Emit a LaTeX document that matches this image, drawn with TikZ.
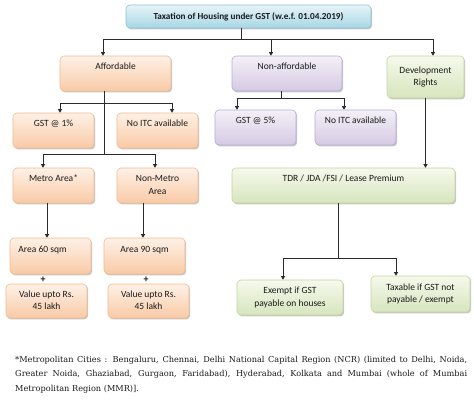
\documentclass[tikz,border=0pt]{standalone}
\usepackage{fontspec}
\usetikzlibrary{shadows,arrows.meta}
\newfontfamily\boxfont{Carlito}
\newfontfamily\notefont{DejaVu Serif}
\definecolor{orT}{HTML}{FEF1E7}
\definecolor{orB}{HTML}{F9CAA6}
\definecolor{orD}{HTML}{F5BA90}
\definecolor{puT}{HTML}{F4F0F8}
\definecolor{puB}{HTML}{D5CAE3}
\definecolor{puD}{HTML}{B9AAD3}
\definecolor{grT}{HTML}{F5F9EC}
\definecolor{grB}{HTML}{D7E5BD}
\definecolor{grD}{HTML}{C2D69E}
\definecolor{cyT}{HTML}{E6F4F9}
\definecolor{cyB}{HTML}{A7D6E3}
\definecolor{cyD}{HTML}{8AC3D3}
\definecolor{lineC}{HTML}{2B2B2B}
\definecolor{txtC}{HTML}{1A1A1A}
\newcommand{\twol}[2]{\strut #1\\\strut #2}
\tikzset{
  box/.style={rounded corners=4pt, line width=0.6pt, align=center, inner sep=0pt,
    text=txtC, font=\boxfont\fontsize{9.5}{12.5}\selectfont,
    drop shadow={shadow xshift=1.2pt, shadow yshift=-1.4pt, opacity=0.22, fill=black}},
  obox/.style={box, draw=orD, top color=orT, bottom color=orB},
  pbox/.style={box, draw=puD, top color=puT, bottom color=puB},
  gbox/.style={box, draw=grD, top color=grT, bottom color=grB},
  cbox/.style={box, draw=cyD, top color=cyT, bottom color=cyB},
  conn/.style={draw=lineC, line width=0.8pt},
  arr/.style={conn, -{Triangle[width=4pt,length=3.5pt]}},
  plus/.style={font=\boxfont\bfseries\fontsize{10}{10}\selectfont, text=txtC, inner sep=0pt},
}
\begin{document}
\begin{tikzpicture}[x=1pt,y=-1pt]
\fill[white] (0,0) rectangle (474,402);
\useasboundingbox (0,0) rectangle (474,402);

% boxes
\node[cbox, minimum width=245pt, minimum height=23pt, font=\boxfont\bfseries\fontsize{9.2}{11}\selectfont] (title) at (248.5,16.5) {Taxation of Housing under GST (w.e.f. 01.04.2019)};
\node[obox, minimum width=111pt, minimum height=35pt] (aff) at (115.5,73.5) {\twol{Affordable}{}};
\node[pbox, minimum width=110pt, minimum height=35pt] (naff) at (287,73.5) {\twol{Non-affordable}{}};
\node[gbox, minimum width=77pt, minimum height=42pt] (dev) at (425.5,77) {\twol{Development}{Rights}};

\node[obox, minimum width=81pt, minimum height=35pt] (gst1) at (53.5,130.5) {\twol{GST @ 1\%}{}};
\node[obox, minimum width=81pt, minimum height=35pt] (itc1) at (157.5,130.5) {\twol{No ITC available}{}};
\node[obox, minimum width=81pt, minimum height=35pt] (metro) at (53.5,185.5) {\twol{Metro Area*}{}};
\node[obox, minimum width=81pt, minimum height=35pt] (nonmetro) at (157.5,185.5) {\twol{Non-Metro}{Area}};
\node[obox, minimum width=81pt, minimum height=36pt] (a60) at (50.5,256) {\twol{\hspace*{-16pt}Area 60 sqm}{}};
\node[obox, minimum width=81pt, minimum height=36pt] (a90) at (144.5,256) {\twol{Area 90 sqm}{}};
\node[obox, minimum width=81pt, minimum height=34pt] (v1) at (46.5,301) {\twol{Value upto Rs.}{45 lakh}};
\node[obox, minimum width=81pt, minimum height=34pt] (v2) at (148.5,301) {\twol{Value upto Rs.}{45 lakh}};

\node[pbox, minimum width=81pt, minimum height=35pt] (gst5) at (255.5,127.5) {\twol{GST @ 5\%}{}};
\node[pbox, minimum width=81pt, minimum height=35pt] (itc2) at (355.5,127.5) {\twol{No ITC available}{}};

\node[gbox, minimum width=223pt, minimum height=35pt] (tdr) at (343.5,185.5) {\twol{TDR / JDA /FSI / Lease Premium}{}};
\node[gbox, minimum width=106pt, minimum height=35pt] (ex) at (290,297.5) {\twol{Exempt if GST}{payable on houses}};
\node[gbox, minimum width=99pt, minimum height=36pt] (tax) at (420.5,294) {\twol{Taxable if GST not}{payable / exempt}};

\node[plus] (plus1) at (43,280) {+};
\node[plus] (plus2) at (146,280) {+};

% connectors
\coordinate (j1) at (241,39);
\draw[conn] ([xshift=-7.5pt]title.south) -- (j1);
\draw[arr] (j1) -| ([xshift=-12.5pt]aff.north);
\draw[arr] (j1) -| ([xshift=-16pt]naff.north);
\draw[arr] (j1) -| ([xshift=7.5pt]dev.north);

\coordinate (j2) at (104,103);
\coordinate (j3) at (104,154);
\draw[conn] ([xshift=-11.5pt]aff.south) -- (j3);
\draw[arr] (j2) -| ([xshift=6.5pt]gst1.north);
\draw[arr] (j2) -| ([xshift=14.5pt]itc1.north);
\draw[arr] (j3) -| ([xshift=-10.5pt]metro.north);
\draw[arr] (j3) -| ([xshift=-2.5pt]nonmetro.north);

\draw[arr] ([xshift=-6.5pt]metro.south) -- ([xshift=-6.5pt]metro.south |- a60.north);
\draw[arr] ([xshift=-14.5pt]nonmetro.south) -- ([xshift=-14.5pt]nonmetro.south |- a90.north);

\coordinate (j4) at (281,98);
\draw[conn] ([xshift=-6pt]naff.south) -- (j4);
\draw[arr] (j4) -| ([xshift=-18.5pt]gst5.north);
\draw[arr] (j4) -| ([xshift=-11.5pt]itc2.north);

\draw[arr] (dev.south) -- (dev.south |- tdr.north);

\coordinate (j5) at (338,258);
\draw[conn] ([xshift=-5.5pt]tdr.south) -- (j5);
\draw[arr] (j5) -| ([xshift=-7pt]ex.north);
\draw[arr] (j5) -| ([xshift=-24.5pt]tax.north);

% footnote
\node[anchor=north west, inner sep=0pt, text=txtC, font=\notefont\fontsize{8.2}{14.5}\selectfont, align=left] (note) at (15,356) {%
\makebox[452pt][s]{*Metropolitan Cities : Bengaluru, Chennai, Delhi National Capital Region (NCR) (limited to Delhi, Noida,}\\
\makebox[452pt][s]{Greater Noida, Ghaziabad, Gurgaon, Faridabad), Hyderabad, Kolkata and Mumbai (whole of Mumbai}\\
Metropolitan Region (MMR)].};
\end{tikzpicture}
\end{document}
